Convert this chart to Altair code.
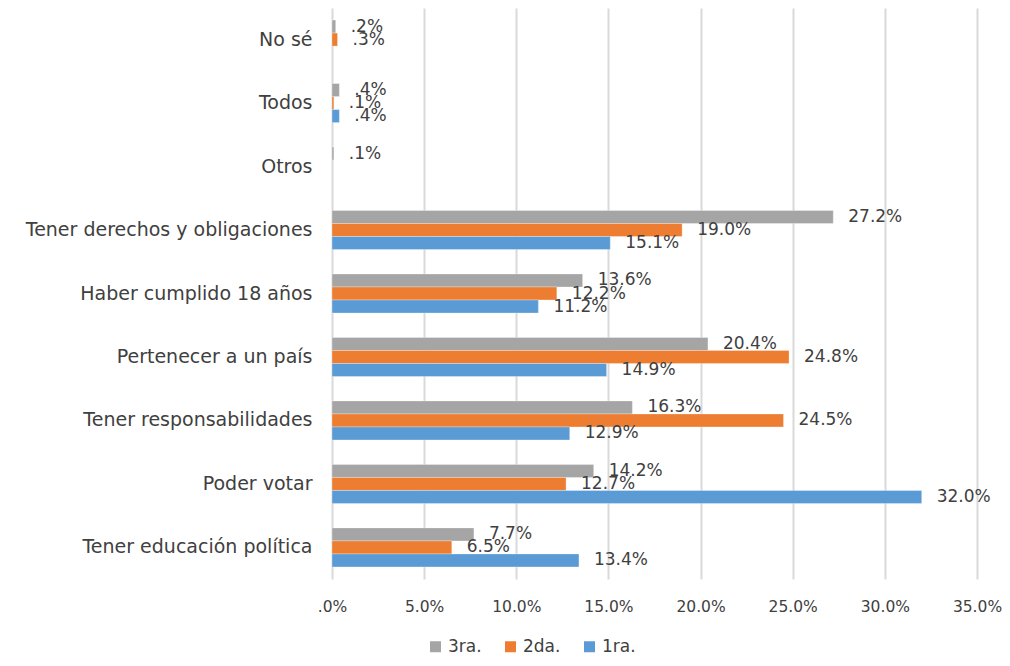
import altair as alt
import pandas as pd

categories = ["No sé", "Todos", "Otros", "Tener derechos y obligaciones",
              "Haber cumplido 18 años", "Pertenecer a un país",
              "Tener responsabilidades ", "Poder votar", "Tener educación política"]
series = ["3ra.", "2da.", "1ra."]
colors = ["#A5A5A5", "#ED7D31", "#5B9BD5"]

v3ra = [0.2, 0.4, 0.1, 27.2, 13.6, 20.4, 16.3, 14.2, 7.7]
v2da = [0.3, 0.1, None, 19.0, 12.2, 24.8, 24.5, 12.7, 6.5]
v1ra = [None, 0.4, None, 15.1, 11.2, 14.9, 12.9, 32.0, 13.4]

rows = []
for s, vals in zip(series, [v3ra, v2da, v1ra]):
    for c, v in zip(categories, vals):
        if v is None:
            continue
        lab = f"{v:.1f}%"
        if lab.startswith("0"):
            lab = lab[1:]
        rows.append({"cat": c, "serie": s, "val": v, "label": lab})
df = pd.DataFrame(rows)

FONT = "DejaVu Sans"
TXT = "#404040"

y_enc = alt.Y("cat:N", sort=categories, title=None,
              scale=alt.Scale(paddingInner=0.385, paddingOuter=0.19),
              axis=alt.Axis(domain=False, ticks=False, labelFont=FONT, labelFontSize=19,
                            labelColor=TXT, labelPadding=20, labelLimit=400))
yoff = alt.YOffset("serie:N", sort=series, scale=alt.Scale(paddingInner=0, paddingOuter=0))

base = alt.Chart(df)

bars = base.mark_bar(stroke="white", strokeWidth=0.5, strokeOpacity=0.6).encode(
    x=alt.X("val:Q", title=None,
            scale=alt.Scale(domain=[0, 35], nice=False, zero=True),
            axis=alt.Axis(values=[0, 5, 10, 15, 20, 25, 30, 35], domain=False, ticks=False,
                          grid=True, gridColor="#D9D9D9", gridWidth=2, labelFlush=False,
                          labelFont=FONT, labelFontSize=15.5, labelColor=TXT, labelPadding=20,
                          labelExpr="datum.value == 0 ? '.0%' : format(datum.value, '.1f') + '%'")),
    y=y_enc,
    yOffset=yoff,
    color=alt.Color("serie:N", sort=series,
                    scale=alt.Scale(domain=series, range=colors),
                    legend=alt.Legend(title=None, orient="none", direction="horizontal",
                                      legendX=95, legendY=630, symbolType="square",
                                      symbolSize=121, symbolStrokeWidth=0,
                                      labelFont=FONT, labelFontSize=17, labelColor=TXT,
                                      columnPadding=20, labelOffset=4, padding=0)),
)

texts = base.mark_text(align="left", baseline="middle", dx=15, font=FONT,
                       fontSize=17, color=TXT).encode(
    x="val:Q",
    y=alt.Y("cat:N", sort=categories),
    yOffset=yoff,
    text="label:N",
)

chart = alt.layer(bars, texts).properties(
    width=645, height=571,
    autosize=alt.AutoSizeParams(type="none"),
    padding={"left": 324, "top": 0, "right": 25, "bottom": 78},
).configure_view(stroke=None)

chart.save("out.html", embed_options={"renderer": "svg", "actions": False})
